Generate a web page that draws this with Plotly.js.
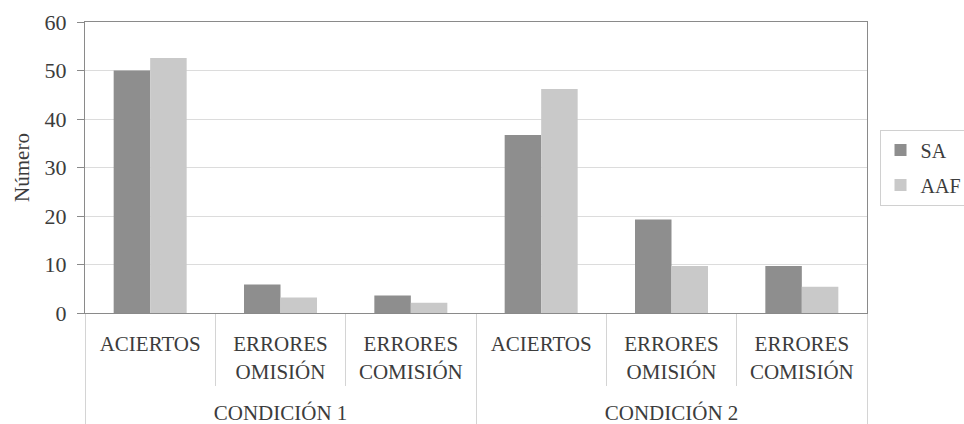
<!DOCTYPE html>
<html>
<head>
<meta charset="utf-8">
<script src="https://cdn.plot.ly/plotly-3.0.1.min.js"></script>
<style>
  html, body { margin: 0; padding: 0; background: #ffffff; }
  #chart { width: 964px; height: 424px; }
</style>
</head>
<body>
<div id="chart"></div>
<script>
// Grouped categories: condition (outer level) and response type (inner level).
const conditions = ['CONDICIÓN 1', 'CONDICIÓN 1', 'CONDICIÓN 1', 'CONDICIÓN 2', 'CONDICIÓN 2', 'CONDICIÓN 2'];
const responseLines = [
  ['ACIERTOS', ''],
  ['ERRORES', 'OMISIÓN'],
  ['ERRORES', 'COMISIÓN'],
  ['ACIERTOS', ''],
  ['ERRORES', 'OMISIÓN'],
  ['ERRORES', 'COMISIÓN']
];

// Series values
const seriesSA = [50.0, 5.9, 3.6, 36.7, 19.3, 9.7];
const seriesAAF = [52.6, 3.2, 2.1, 46.2, 9.7, 5.4];

const yTicks = [0, 10, 20, 30, 40, 50, 60];

// Inner labels get a trailing blank line so the condition row sits lower.
const responses = responseLines.map(l => l[0] + '<br>' + (l[1] || '\u00a0') + '<br>\u00a0');

const serif = 'Liberation Serif, Times New Roman, serif';
const textColor = '#3c3c3c';

const traces = [
  {
    type: 'bar', name: 'SA', x: [conditions, responses], y: seriesSA,
    marker: { color: '#8e8e8e' }, legendgroup: 'sa', hoverinfo: 'y'
  },
  {
    type: 'bar', name: 'AAF', x: [conditions, responses], y: seriesAAF,
    marker: { color: '#c9c9c9' }, legendgroup: 'aaf', hoverinfo: 'y'
  }
];

const layout = {
  width: 964, height: 424,
  margin: { l: 85, r: 97, t: 22, b: 111, autoexpand: false },
  paper_bgcolor: '#ffffff', plot_bgcolor: '#ffffff',
  font: { family: serif, size: 21, color: textColor },
  barmode: 'group', bargap: 0.44, bargroupgap: 0,
  showlegend: true,
  legend: {
    x: 1.016, xanchor: 'left', y: 0.5, yanchor: 'middle',
    bordercolor: '#d0d0d0', borderwidth: 1,
    traceorder: 'grouped', tracegroupgap: 6,
    itemwidth: 30,
    font: { family: serif, size: 20, color: textColor }
  },
  xaxis: {
    type: 'multicategory',
    tickangle: 0,
    showline: true, linecolor: '#8a8a8a', linewidth: 1, mirror: true,
    ticks: 'outside', ticklen: 72, tickcolor: '#d4d4d4', tickwidth: 1,
    ticklabelstandoff: 12,
    showdividers: true, dividercolor: '#d4d4d4', dividerwidth: 1,
    tickfont: { family: serif, size: 21, color: textColor },
    showgrid: false
  },
  yaxis: {
    range: [0, 60], tickvals: yTicks, ticktext: yTicks.map(String),
    showline: true, linecolor: '#8a8a8a', linewidth: 1, mirror: true,
    ticks: 'outside', ticklen: 7, tickcolor: '#8a8a8a',
    ticklabelstandoff: 6,
    showgrid: true, gridcolor: '#dcdcdc', gridwidth: 1,
    zeroline: false,
    tickfont: { family: serif, size: 22, color: textColor },
    title: { text: 'Número', font: { family: serif, size: 21, color: textColor }, standoff: 9 }
  }
};

Plotly.newPlot('chart', traces, layout, { displayModeBar: false, staticPlot: true });
</script>
</body>
</html>
